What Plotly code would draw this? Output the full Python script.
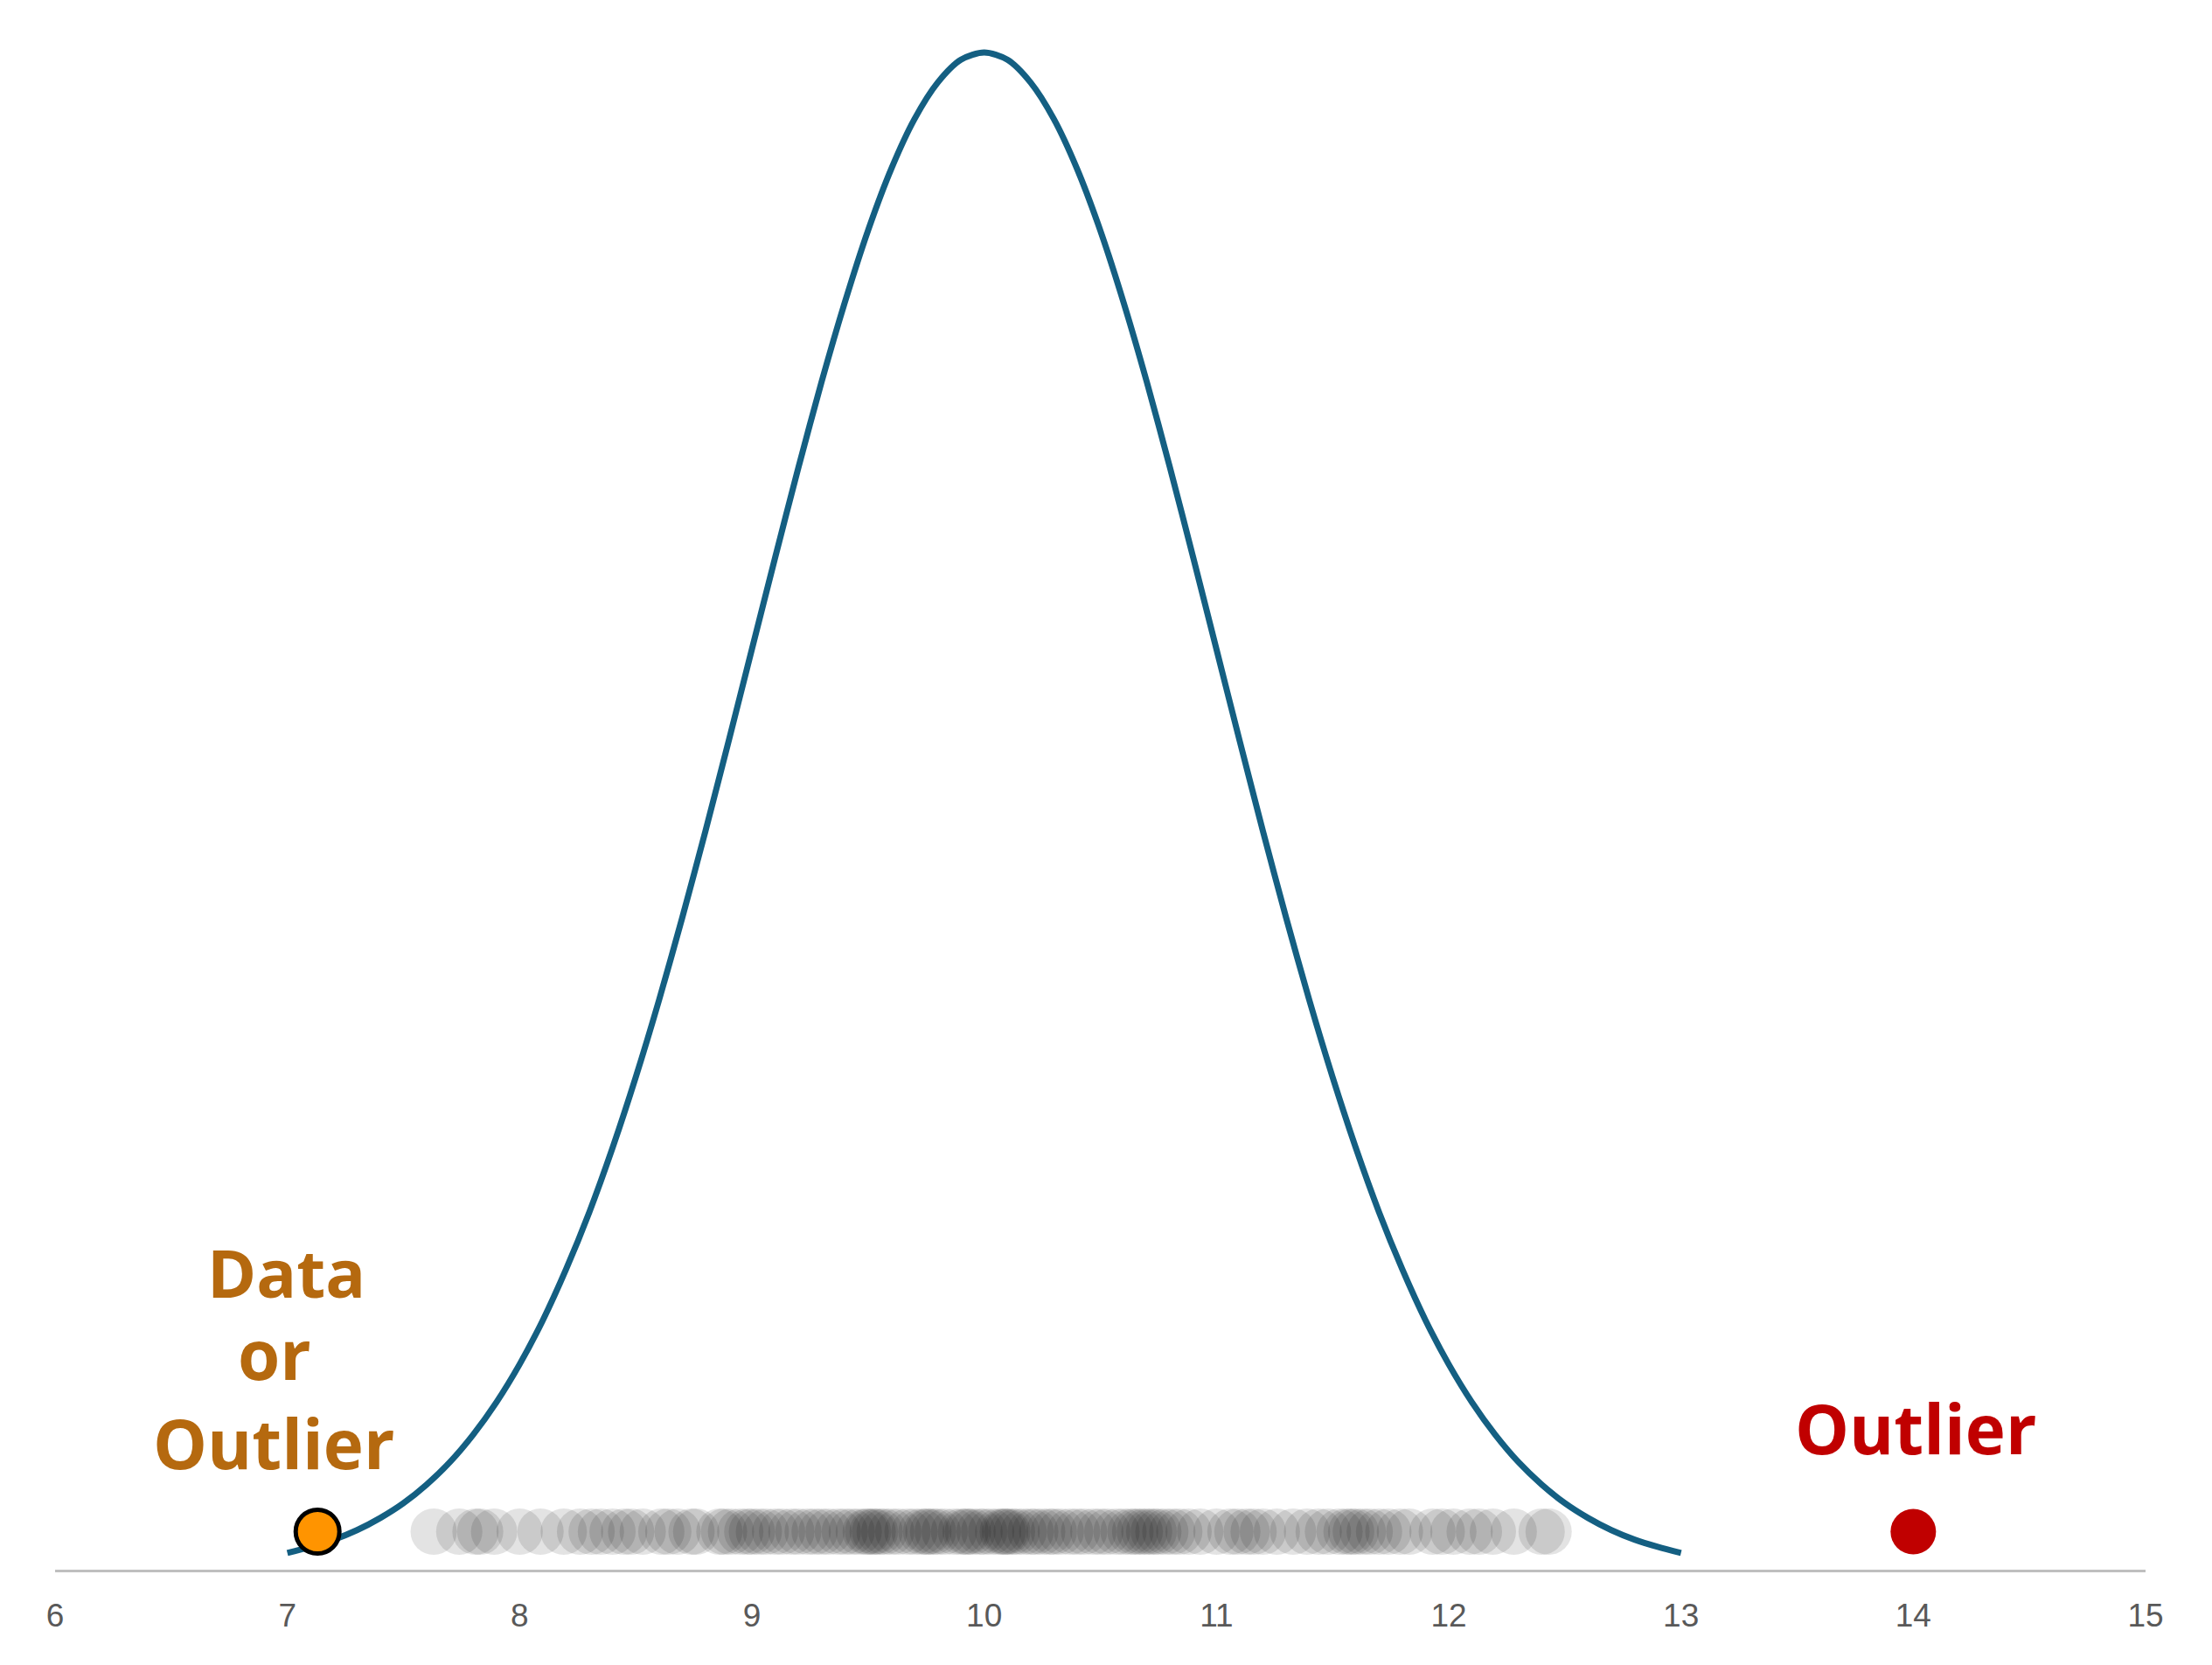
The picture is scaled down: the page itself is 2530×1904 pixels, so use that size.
import plotly.graph_objects as go

# fitted normal curve (step 0.1)
curve_x = [7.0, 7.1, 7.2, 7.3, 7.4, 7.5, 7.6, 7.7, 7.8, 7.9,
           8.0, 8.1, 8.2, 8.3, 8.4, 8.5, 8.6, 8.7, 8.8, 8.9,
           9.0, 9.1, 9.2, 9.3, 9.4, 9.5, 9.6, 9.7, 9.8, 9.9,
           10.0, 10.1, 10.2, 10.3, 10.4, 10.5, 10.6, 10.7, 10.8, 10.9,
           11.0, 11.1, 11.2, 11.3, 11.4, 11.5, 11.6, 11.7, 11.8, 11.9,
           12.0, 12.1, 12.2, 12.3, 12.4, 12.5, 12.6, 12.7, 12.8, 12.9, 13.0]
curve_y = [0.0044, 0.0060, 0.0079, 0.0104, 0.0136, 0.0175, 0.0224, 0.0283, 0.0355, 0.0440,
           0.0540, 0.0656, 0.0790, 0.0940, 0.1109, 0.1295, 0.1497, 0.1714, 0.1942, 0.2179,
           0.2420, 0.2661, 0.2897, 0.3123, 0.3332, 0.3521, 0.3683, 0.3814, 0.3910, 0.3970,
           0.3989, 0.3970, 0.3910, 0.3814, 0.3683, 0.3521, 0.3332, 0.3123, 0.2897, 0.2661,
           0.2420, 0.2179, 0.1942, 0.1714, 0.1497, 0.1295, 0.1109, 0.0940, 0.0790, 0.0656,
           0.0540, 0.0440, 0.0355, 0.0283, 0.0224, 0.0175, 0.0136, 0.0104, 0.0079, 0.0060, 0.0044]

# observations (strip of translucent dots)
obs = [7.63, 7.74, 7.81, 7.83, 7.89, 8.00, 8.09, 8.19, 8.26, 8.31, 8.35, 8.40, 8.45,
       8.48, 8.53, 8.61, 8.64, 8.68, 8.74, 8.76, 8.86, 8.88, 8.91, 8.95, 8.98,
       9.00, 9.03, 9.06, 9.10, 9.13, 9.17, 9.20, 9.24, 9.27, 9.30, 9.33, 9.37, 9.40,
       9.43, 9.46, 9.49, 9.50, 9.52, 9.53, 9.55, 9.57, 9.60, 9.63, 9.67, 9.70, 9.73,
       9.75, 9.76, 9.78, 9.80, 9.83, 9.87, 9.90, 9.92, 9.93, 9.95, 9.98, 10.00, 10.03,
       10.06, 10.08, 10.09, 10.10, 10.12, 10.14, 10.17, 10.20, 10.22, 10.25, 10.28,
       10.30, 10.33, 10.37, 10.40, 10.43, 10.47, 10.50, 10.53, 10.57, 10.60, 10.63,
       10.65, 10.67, 10.69, 10.71, 10.73, 10.75, 10.78, 10.81, 10.84, 10.88, 10.93,
       11.00, 11.06, 11.09, 11.13, 11.16, 11.20, 11.26, 11.33, 11.39, 11.44, 11.48,
       11.53, 11.56, 11.58, 11.60, 11.63, 11.66, 11.70, 11.74, 11.79, 11.83, 11.93,
       11.97, 12.02, 12.09, 12.13, 12.19, 12.28, 12.40, 12.43]
obs_level = 0.01

maybe_x = 7.13
outlier_x = 14.0
tick_vals = [6, 7, 8, 9, 10, 11, 12, 13, 14, 15]

fig = go.Figure()

fig.add_trace(go.Scatter(
    x=obs, y=[obs_level] * len(obs), mode='markers',
    marker=dict(size=53, color='rgba(0,0,0,0.11)', line=dict(width=0)),
    hoverinfo='x'
))

fig.add_trace(go.Scatter(
    x=curve_x, y=curve_y, mode='lines',
    line=dict(color='#145F82', width=7, shape='spline', smoothing=0.8)
))

fig.add_trace(go.Scatter(
    x=[maybe_x], y=[obs_level], mode='markers',
    marker=dict(size=50, color='#FF9400', line=dict(color='black', width=5))
))

fig.add_trace(go.Scatter(
    x=[outlier_x], y=[obs_level], mode='markers',
    marker=dict(size=52, color='#C00000', line=dict(width=0))
))

orange = '#B5690F'
label_font = 'Open Sans, Noto Sans, sans-serif'
fig.add_annotation(x=6.995, y=0.0784, text='<b>Data</b>', showarrow=False,
                   font=dict(family=label_font, size=76, color=orange))
fig.add_annotation(x=6.945, y=0.0568, text='<b>or</b>', showarrow=False,
                   font=dict(family=label_font, size=78, color=orange))
fig.add_annotation(x=6.94, y=0.0333, text='<b>Outlier</b>', showarrow=False,
                   font=dict(family=label_font, size=78, color=orange))
fig.add_annotation(x=14.01, y=0.0372, text='<b>Outlier</b>', showarrow=False,
                   font=dict(family=label_font, size=78, color='#C00000'))

fig.update_layout(
    width=2530, height=1904,
    margin=dict(l=55, r=84, t=32, b=117),
    plot_bgcolor='white',
    paper_bgcolor='white',
    showlegend=False,
    xaxis=dict(
        range=[6, 15],
        tickvals=tick_vals,
        showgrid=False,
        zeroline=False,
        showline=True,
        linecolor='#BFBFBF',
        linewidth=3,
        ticks='',
        ticklabelstandoff=18,
        tickfont=dict(family='Liberation Sans, Arial, sans-serif', size=37, color='#595959')
    ),
    yaxis=dict(range=[0, 0.4035], visible=False, showgrid=False, zeroline=False)
)

fig.write_html("out.html")
